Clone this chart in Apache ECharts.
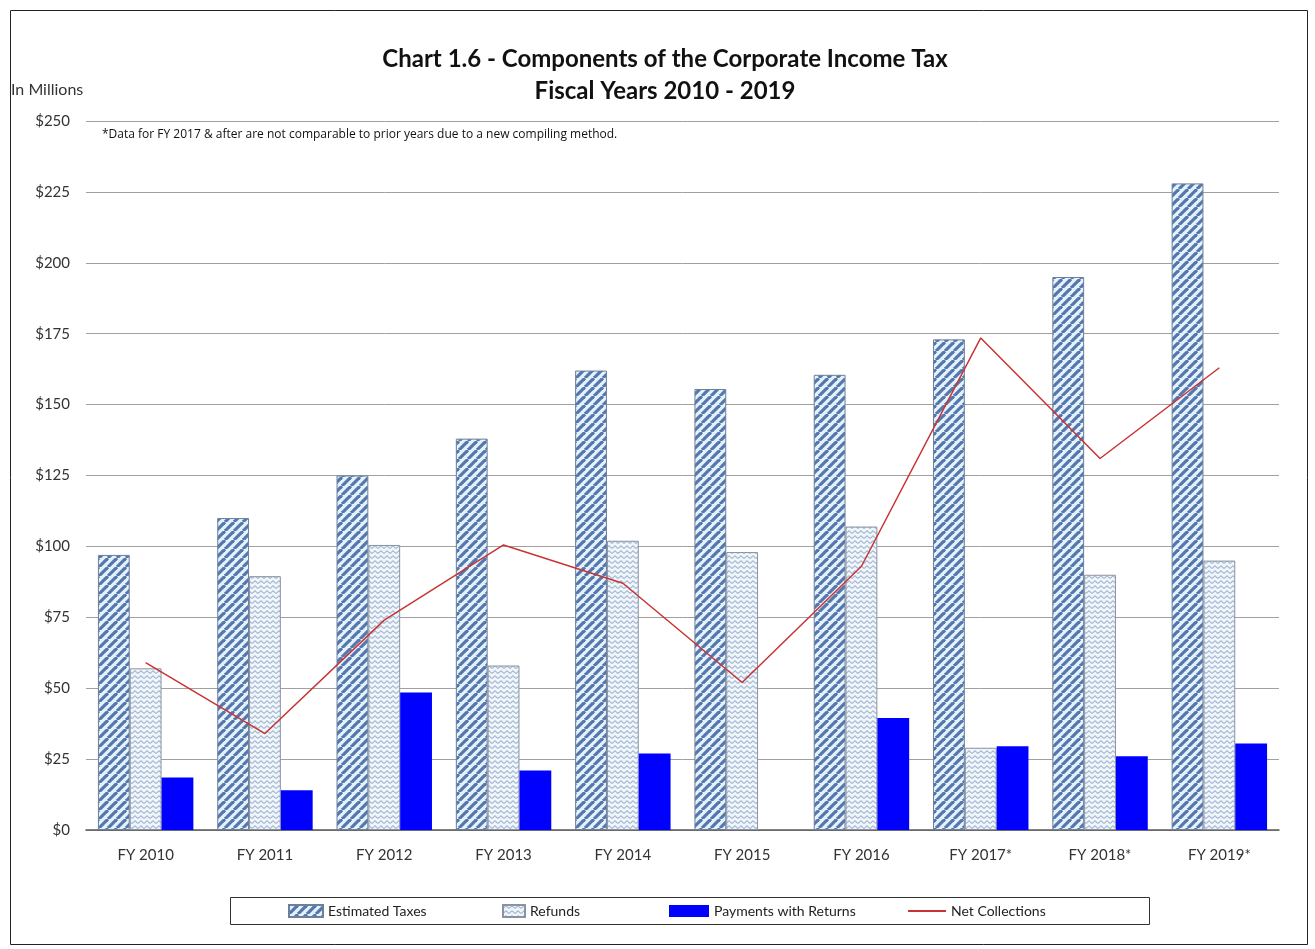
<!DOCTYPE html>
<html>
<head>
<meta charset="utf-8">
<title>Chart 1.6 - Components of the Corporate Income Tax</title>
<script src="https://cdn.jsdelivr.net/npm/echarts@6/dist/echarts.min.js"></script>
<style>
  html, body { margin: 0; padding: 0; background: #fff; }
  #chart { width: 1315px; height: 949px; }
</style>
</head>
<body>
<div id="chart"></div>
<script>
// Fiscal years shown on the category axis
const categories = ['FY 2010', 'FY 2011', 'FY 2012', 'FY 2013', 'FY 2014',
                    'FY 2015', 'FY 2016', 'FY 2017*', 'FY 2018*', 'FY 2019*'];

// Values in millions of dollars
const estimatedTaxes      = [97, 110, 125, 138, 162, 155.5, 160.5, 173, 195, 228];
const refunds             = [57, 89.5, 100.5, 58, 102, 98, 107, 29, 90, 95];
const paymentsWithReturns = [18.5, 14, 48.5, 21, 27, 0, 39.5, 29.5, 26, 30.5];
const netCollections      = [59, 34, 74, 100.5, 87, 52, 93, 173.5, 131, 163];

// Y axis scale
const yMin = 0, yMax = 250, yStep = 25;

const FONT = 'Lato, "Open Sans", "Liberation Sans", sans-serif';

// Wide upward diagonal hatch
function stripePattern() {
  const s = 9;
  const c = document.createElement('canvas');
  c.width = s; c.height = s;
  const g = c.getContext('2d');
  g.fillStyle = '#e4f2fc';
  g.fillRect(0, 0, s, s);
  g.strokeStyle = '#5577ad';
  g.lineWidth = 3.2;
  for (const k of [-s, 0, s]) {
    g.beginPath();
    g.moveTo(k, s);
    g.lineTo(k + s, 0);
    g.stroke();
  }
  return c;
}

// Light zigzag texture
function zigzagPattern() {
  const c = document.createElement('canvas');
  c.width = 6; c.height = 5;
  const g = c.getContext('2d');
  g.fillStyle = '#f1f6fb';
  g.fillRect(0, 0, 6, 5);
  g.strokeStyle = '#a5bad4';
  g.lineWidth = 1.1;
  g.beginPath();
  g.moveTo(0, 3.6);
  g.lineTo(3, 0.8);
  g.lineTo(6, 3.6);
  g.stroke();
  return c;
}

const chart = echarts.init(document.getElementById('chart'), null, { renderer: 'canvas' });

const stripe = { image: stripePattern(), repeat: 'repeat' };
const zigzag = { image: zigzagPattern(), repeat: 'repeat' };

const legendText = { fontFamily: FONT, fontSize: 14, color: '#222' };

chart.setOption({
  backgroundColor: '#fff',
  animation: false,
  title: {
    text: 'Chart 1.6 - Components of the Corporate Income Tax\nFiscal Years 2010 - 2019',
    left: 660,
    textAlign: 'center',
    top: 38,
    textStyle: { fontFamily: FONT, fontSize: 24, fontWeight: 'bold', color: '#111', lineHeight: 32 }
  },
  grid: { left: 86, right: 36, top: 121, bottom: 119, containLabel: false },
  xAxis: {
    type: 'category',
    data: categories,
    axisLine: { lineStyle: { color: '#5a5a5a', width: 1.5 } },
    axisTick: { show: false },
    axisLabel: { fontFamily: FONT, fontSize: 15, color: '#333', margin: 18 }
  },
  yAxis: {
    type: 'value',
    min: yMin, max: yMax, interval: yStep,
    axisLine: { show: false },
    axisTick: { show: false },
    splitLine: { lineStyle: { color: '#a0a0a0', width: 1 } },
    axisLabel: {
      fontFamily: FONT, fontSize: 15, color: '#333', margin: 16,
      formatter: v => '$' + v
    }
  },
  legend: [
    { data: [{ name: 'Estimated Taxes', icon: 'rect' }], left: 283, top: 899, itemWidth: 34, itemHeight: 12, itemGap: 2, textStyle: legendText },
    { data: [{ name: 'Refunds', icon: 'rect' }], left: 497, top: 899, itemWidth: 22, itemHeight: 12, textStyle: legendText },
    { data: [{ name: 'Payments with Returns', icon: 'rect' }], left: 664, top: 899, itemWidth: 40, itemHeight: 12, textStyle: legendText },
    { data: [{ name: 'Net Collections', icon: 'rect' }], left: 903, top: 899, itemWidth: 38, itemHeight: 2, textStyle: legendText }
  ],
  graphic: [
    {
      type: 'rect', left: 8, top: 8, silent: true,
      shape: { width: 1297, height: 934 },
      style: { fill: 'none', stroke: '#222', lineWidth: 1 }
    },
    {
      type: 'text', left: 11, top: 82, silent: true,
      style: { text: 'In Millions', fontFamily: FONT, fontSize: 16, fill: '#333' }
    },
    {
      type: 'text', left: 102, top: 129, silent: true,
      style: {
        text: '*Data for FY 2017 & after are not comparable to prior years due to a new compiling method.',
        fontFamily: '"Open Sans", Lato, sans-serif', fontSize: 12, fill: '#111'
      }
    },
    {
      type: 'rect', left: 228, top: 895, silent: true,
      shape: { width: 919, height: 27 },
      style: { fill: 'none', stroke: '#333', lineWidth: 1 }
    }
  ],
  series: [
    {
      name: 'Estimated Taxes', type: 'bar', data: estimatedTaxes,
      barGap: '0%', barCategoryGap: '20%',
      itemStyle: { color: stripe, borderColor: '#6f7f99', borderWidth: 1 }
    },
    {
      name: 'Refunds', type: 'bar', data: refunds,
      itemStyle: { color: zigzag, borderColor: '#8a93a0', borderWidth: 1 }
    },
    {
      name: 'Payments with Returns', type: 'bar', data: paymentsWithReturns,
      itemStyle: { color: '#0000ff', borderWidth: 0 }
    },
    {
      name: 'Net Collections', type: 'line', data: netCollections,
      symbol: 'none', z: 5,
      lineStyle: { color: '#c83434', width: 1.5 },
      itemStyle: { color: '#c83434' }
    }
  ]
});
</script>
</body>
</html>
